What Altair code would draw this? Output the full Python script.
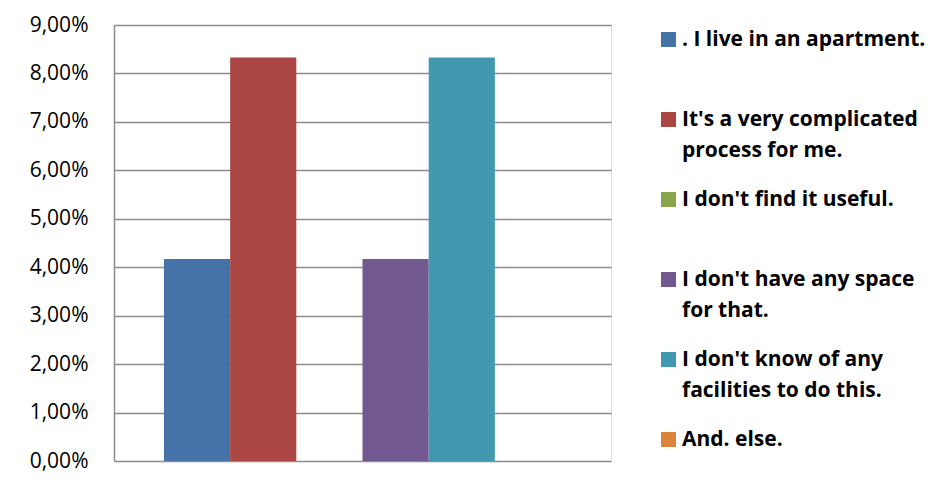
import altair as alt
import pandas as pd

series = [
    ". I live in an apartment.",
    "It's a very complicated|process for me.",
    " I don't find it useful.",
    " I don't have any space|for that.",
    "I don't know of any|facilities to do this.",
    "And. else.",
]
values = [4.17, 8.33, 0.0, 4.17, 8.33, 0.0]
colors = ["#4572A7", "#AA4643", "#89A54E", "#71588F", "#4198AF", "#DB843D"]

df = pd.DataFrame({"series": series, "value": values})

chart = alt.Chart(df).mark_bar().encode(
    x=alt.X("series:N", sort=series, axis=None,
            scale=alt.Scale(paddingInner=0, paddingOuter=0.755)),
    y=alt.Y("value:Q", scale=alt.Scale(domain=[0, 9], nice=False),
            axis=alt.Axis(values=list(range(10)), title=None,
                          labelExpr="replace(format(datum.value, '.2f'), '.', ',') + '%'",
                          labelFont="Open Sans", labelFontSize=21, labelColor="#000000",
                          labelLineHeight=20,
                          labelPadding=26, ticks=False, domainColor="#8c8c8c",
                          domainWidth=1.5, gridColor="#8c8c8c", gridWidth=1.5)),
    color=alt.Color("series:N", sort=series,
                    scale=alt.Scale(domain=series, range=colors),
                    legend=alt.Legend(title=None, orient="none", legendX=544, legendY=4,
                                      symbolType="square", symbolSize=225,
                                      symbolStrokeWidth=0, labelFont="Open Sans",
                                      labelFontSize=21, labelFontWeight="bold",
                                      labelColor="#000000", labelLimit=400,
                                      labelOffset=3, rowPadding=27, padding=0,
                                      gridAlign="all",
                                      labelExpr="split(datum.label, '|')")),
).properties(
    width=497, height=436,
    autosize=alt.AutoSizeParams(type="none"),
    padding={"left": 106, "top": 17, "right": 325, "bottom": 14},
).configure_view(stroke=None).configure(style={"guide-label": {"lineHeight": 31}})

chart.save("out.html", embed_options={"renderer": "svg", "actions": False})
